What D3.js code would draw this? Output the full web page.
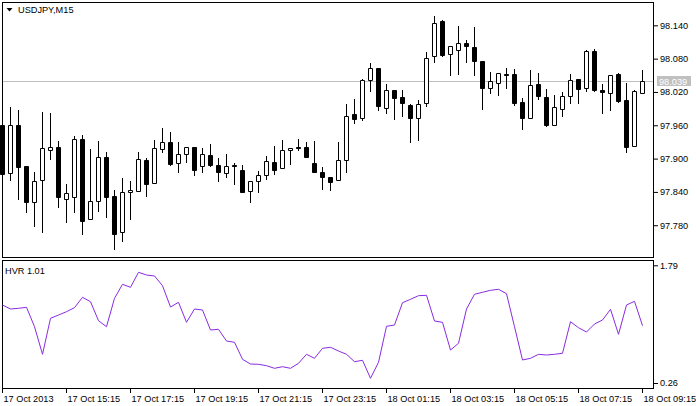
<!DOCTYPE html>
<html><head><meta charset="utf-8">
<script src="https://cdn.jsdelivr.net/npm/d3@7"></script>
<style>
body{margin:0;background:#fff}
svg{display:block}
text{font-family:"Liberation Sans",Arial,sans-serif;font-size:9.2px;fill:#000}
</style>
</head><body><svg id="c" width="696" height="406"></svg>
<script>
const symbol = "USDJPY,M15";
const indicatorName = "HVR 1.01";
const startTime = "2013-10-17T13:15:00";
const barMinutes = 15;

const open = [97.960,97.874,97.960,97.886,97.822,97.862,97.915,97.921,97.828,97.830,
97.935,97.792,97.823,97.903,97.833,97.767,97.839,97.841,97.897,97.856,
97.917,97.930,97.892,97.908,97.921,97.886,97.907,97.889,97.874,97.888,
97.880,97.841,97.859,97.870,97.894,97.883,97.915,97.921,97.921,97.892,
97.875,97.867,97.861,97.897,97.980,97.974,98.041,98.063,97.992,98.023,
98.011,97.996,97.974,98.001,98.084,98.148,98.088,98.095,98.109,98.101,
98.076,98.027,98.037,98.052,98.052,98.002,97.974,98.034,98.011,97.961,
97.990,98.013,98.043,98.028,98.094,98.024,98.019,98.052,98.006,97.923,98.018];
const high = [97.975,97.993,97.988,97.887,97.875,97.984,97.982,97.932,97.855,97.941,
97.943,97.917,97.932,97.912,97.843,97.865,97.860,97.912,97.901,97.934,
97.956,97.948,97.930,97.921,97.921,97.919,97.926,97.901,97.908,97.892,
97.889,97.859,97.878,97.905,97.923,97.934,97.919,97.935,97.930,97.932,
97.885,97.867,97.930,97.998,98.007,98.043,98.073,98.064,98.035,98.023,
98.024,97.998,98.006,98.092,98.157,98.150,98.102,98.139,98.113,98.137,
98.076,98.056,98.054,98.063,98.061,98.010,98.060,98.054,98.025,98.015,
98.020,98.052,98.043,98.096,98.097,98.034,98.051,98.054,98.036,98.024,98.060];
const low = [97.860,97.862,97.828,97.804,97.779,97.768,97.900,97.812,97.785,97.803,
97.765,97.792,97.806,97.795,97.738,97.752,97.791,97.841,97.833,97.856,
97.912,97.888,97.876,97.894,97.870,97.876,97.886,97.860,97.866,97.855,
97.839,97.821,97.839,97.863,97.873,97.883,97.891,97.916,97.902,97.875,
97.846,97.844,97.861,97.875,97.965,97.970,98.021,97.988,97.983,97.972,
97.977,97.930,97.934,97.995,98.074,98.085,98.051,98.053,98.074,98.051,
97.990,98.019,98.015,98.028,97.997,97.954,97.974,98.008,97.959,97.961,
97.977,98.001,98.001,98.022,98.022,97.983,97.988,98.002,97.912,97.923,98.018];
const close = [97.872,97.960,97.884,97.822,97.860,97.919,97.920,97.830,97.838,97.935,
97.788,97.823,97.903,97.831,97.765,97.839,97.843,97.899,97.855,97.919,
97.930,97.891,97.908,97.921,97.880,97.908,97.889,97.875,97.887,97.886,
97.839,97.859,97.871,97.895,97.880,97.915,97.919,97.919,97.902,97.875,
97.866,97.858,97.897,97.976,97.971,98.041,98.064,97.995,98.023,98.010,
98.001,97.973,97.998,98.081,98.145,98.087,98.102,98.108,98.102,98.076,
98.028,98.040,98.054,98.051,98.001,97.974,98.033,98.013,97.961,97.993,
98.013,98.042,98.026,98.094,98.024,98.020,98.051,98.004,97.921,98.022,98.039];
const hvr = [1.274,1.222,1.231,1.244,0.992,0.633,1.101,1.144,1.187,1.239,
1.374,1.317,1.070,0.992,1.361,1.543,1.504,1.699,1.664,1.651,
1.525,1.248,1.309,1.049,1.222,1.209,0.949,0.958,0.806,0.789,
0.568,0.507,0.503,0.485,0.451,0.472,0.451,0.516,0.633,0.581,
0.711,0.724,0.676,0.633,0.537,0.555,0.321,0.529,0.997,1.014,
1.304,1.348,1.395,1.400,1.066,1.049,0.689,0.776,1.222,1.413,
1.439,1.465,1.478,1.421,0.992,0.559,0.581,0.633,0.624,0.633,
0.646,1.057,0.979,0.923,1.027,1.079,1.218,0.893,1.274,1.322,1.005];

const priceTicks = [98.140,98.080,98.020,97.960,97.900,97.840,97.780];
const hvrTicks = [1.79,0.26];
const timeTickLabels = ["17 Oct 2013","17 Oct 15:15","17 Oct 17:15","17 Oct 19:15","17 Oct 21:15",
  "17 Oct 23:15","18 Oct 01:15","18 Oct 03:15","18 Oct 05:15","18 Oct 07:15","18 Oct 09:15"];
const timeTickValues = ["2013-10-17T13:15:00","2013-10-17T15:15:00","2013-10-17T17:15:00","2013-10-17T19:15:00",
  "2013-10-17T21:15:00","2013-10-17T23:15:00","2013-10-18T01:15:00","2013-10-18T03:15:00",
  "2013-10-18T05:15:00","2013-10-18T07:15:00","2013-10-18T09:15:00"];
const currentPrice = 98.039;

const svg = d3.select("#c");
const t0 = new Date(startTime);
const times = open.map((_, i) => d3.timeMinute.offset(t0, barMinutes * i));

const L = 2, R = 653;
const main = {top: 2, bottom: 257};
const ind = {top: 260, bottom: 388};

const x = d3.scaleTime().domain([times[0], times[times.length - 1]]).range([2, 642]);
const y = d3.scaleLinear().domain([97.721, 98.182]).range([258, 2]);
const yH = d3.scaleLinear().domain([0.195, 1.846]).range([388, 261]);

// panels
svg.append("rect").attr("x", L + 0.5).attr("y", main.top + 0.5)
  .attr("width", R - L).attr("height", main.bottom - main.top)
  .attr("fill", "#fff").attr("stroke", "#000");
svg.append("rect").attr("x", L + 0.5).attr("y", ind.top + 0.5)
  .attr("width", R - L).attr("height", ind.bottom - ind.top)
  .attr("fill", "#fff").attr("stroke", "#000");

// current price line
const cpY = Math.round(y(currentPrice)) + 0.5;
svg.append("line").attr("x1", L + 1).attr("x2", R).attr("y1", cpY).attr("y2", cpY)
  .attr("stroke", "#c0c0c0");

// candles
const cg = svg.append("g");
times.forEach((t, i) => {
  const cx = Math.round(x(t)) + 0.5;
  cg.append("line").attr("x1", cx).attr("x2", cx)
    .attr("y1", Math.round(y(high[i]))).attr("y2", Math.round(y(low[i])) + 1)
    .attr("stroke", "#000");
  const top = Math.round(y(Math.max(open[i], close[i]))) + 0.5;
  const bot = Math.round(y(Math.min(open[i], close[i]))) + 0.5;
  const bull = close[i] >= open[i];
  cg.append("path")
    .attr("d", `M${cx - 2},${top}H${cx + 2}V${bot}H${cx - 2}Z`)
    .attr("fill", bull ? "#fff" : "#000").attr("stroke", "#000");
});

// HVR line
svg.append("path").datum(hvr)
  .attr("d", d3.line().x((d, i) => Math.round(x(times[i])) + 0.5).y(d => yH(d)))
  .attr("fill", "none").attr("stroke", "#8a2be2").attr("stroke-width", 1);

// axes
const ax = svg.append("g").attr("transform", `translate(0,${ind.bottom + 1})`)
  .call(d3.axisBottom(x).tickValues(timeTickValues.map(s => new Date(s)))
    .tickFormat((d, i) => timeTickLabels[i]).tickSize(4).tickPadding(2));
ax.select(".domain").remove();
ax.selectAll("text").attr("text-anchor", "start").attr("x", 1).attr("font-size", null).attr("font-family", null);

const ay = svg.append("g").attr("transform", `translate(${R + 1},0)`)
  .call(d3.axisRight(y).tickValues(priceTicks).tickFormat(d3.format(".3f")).tickSize(4).tickPadding(2));
ay.select(".domain").remove();
ay.selectAll("text").attr("font-size", null).attr("font-family", null);

const ah = svg.append("g").attr("transform", `translate(${R + 1},0)`)
  .call(d3.axisRight(yH).tickValues(hvrTicks).tickFormat(d3.format(".2f")).tickSize(4).tickPadding(2));
ah.select(".domain").remove();
ah.selectAll("text").attr("font-size", null).attr("font-family", null);

// current price label
svg.append("rect").attr("x", 657).attr("y", cpY - 5.5).attr("width", 34).attr("height", 10)
  .attr("fill", "#c0c0c0");
svg.append("text").attr("x", 659).attr("y", cpY).attr("dy", "0.34em")
  .style("fill", "#fff").text(d3.format(".3f")(currentPrice));

// titles
svg.append("path").attr("d", "M6.5,8L12.5,8L9.5,11.5Z").attr("fill", "#000");
svg.append("text").attr("x", 18).attr("y", 13).text(symbol);
svg.append("text").attr("x", 5).attr("y", 273.5).text(indicatorName);
</script>
</body></html>
